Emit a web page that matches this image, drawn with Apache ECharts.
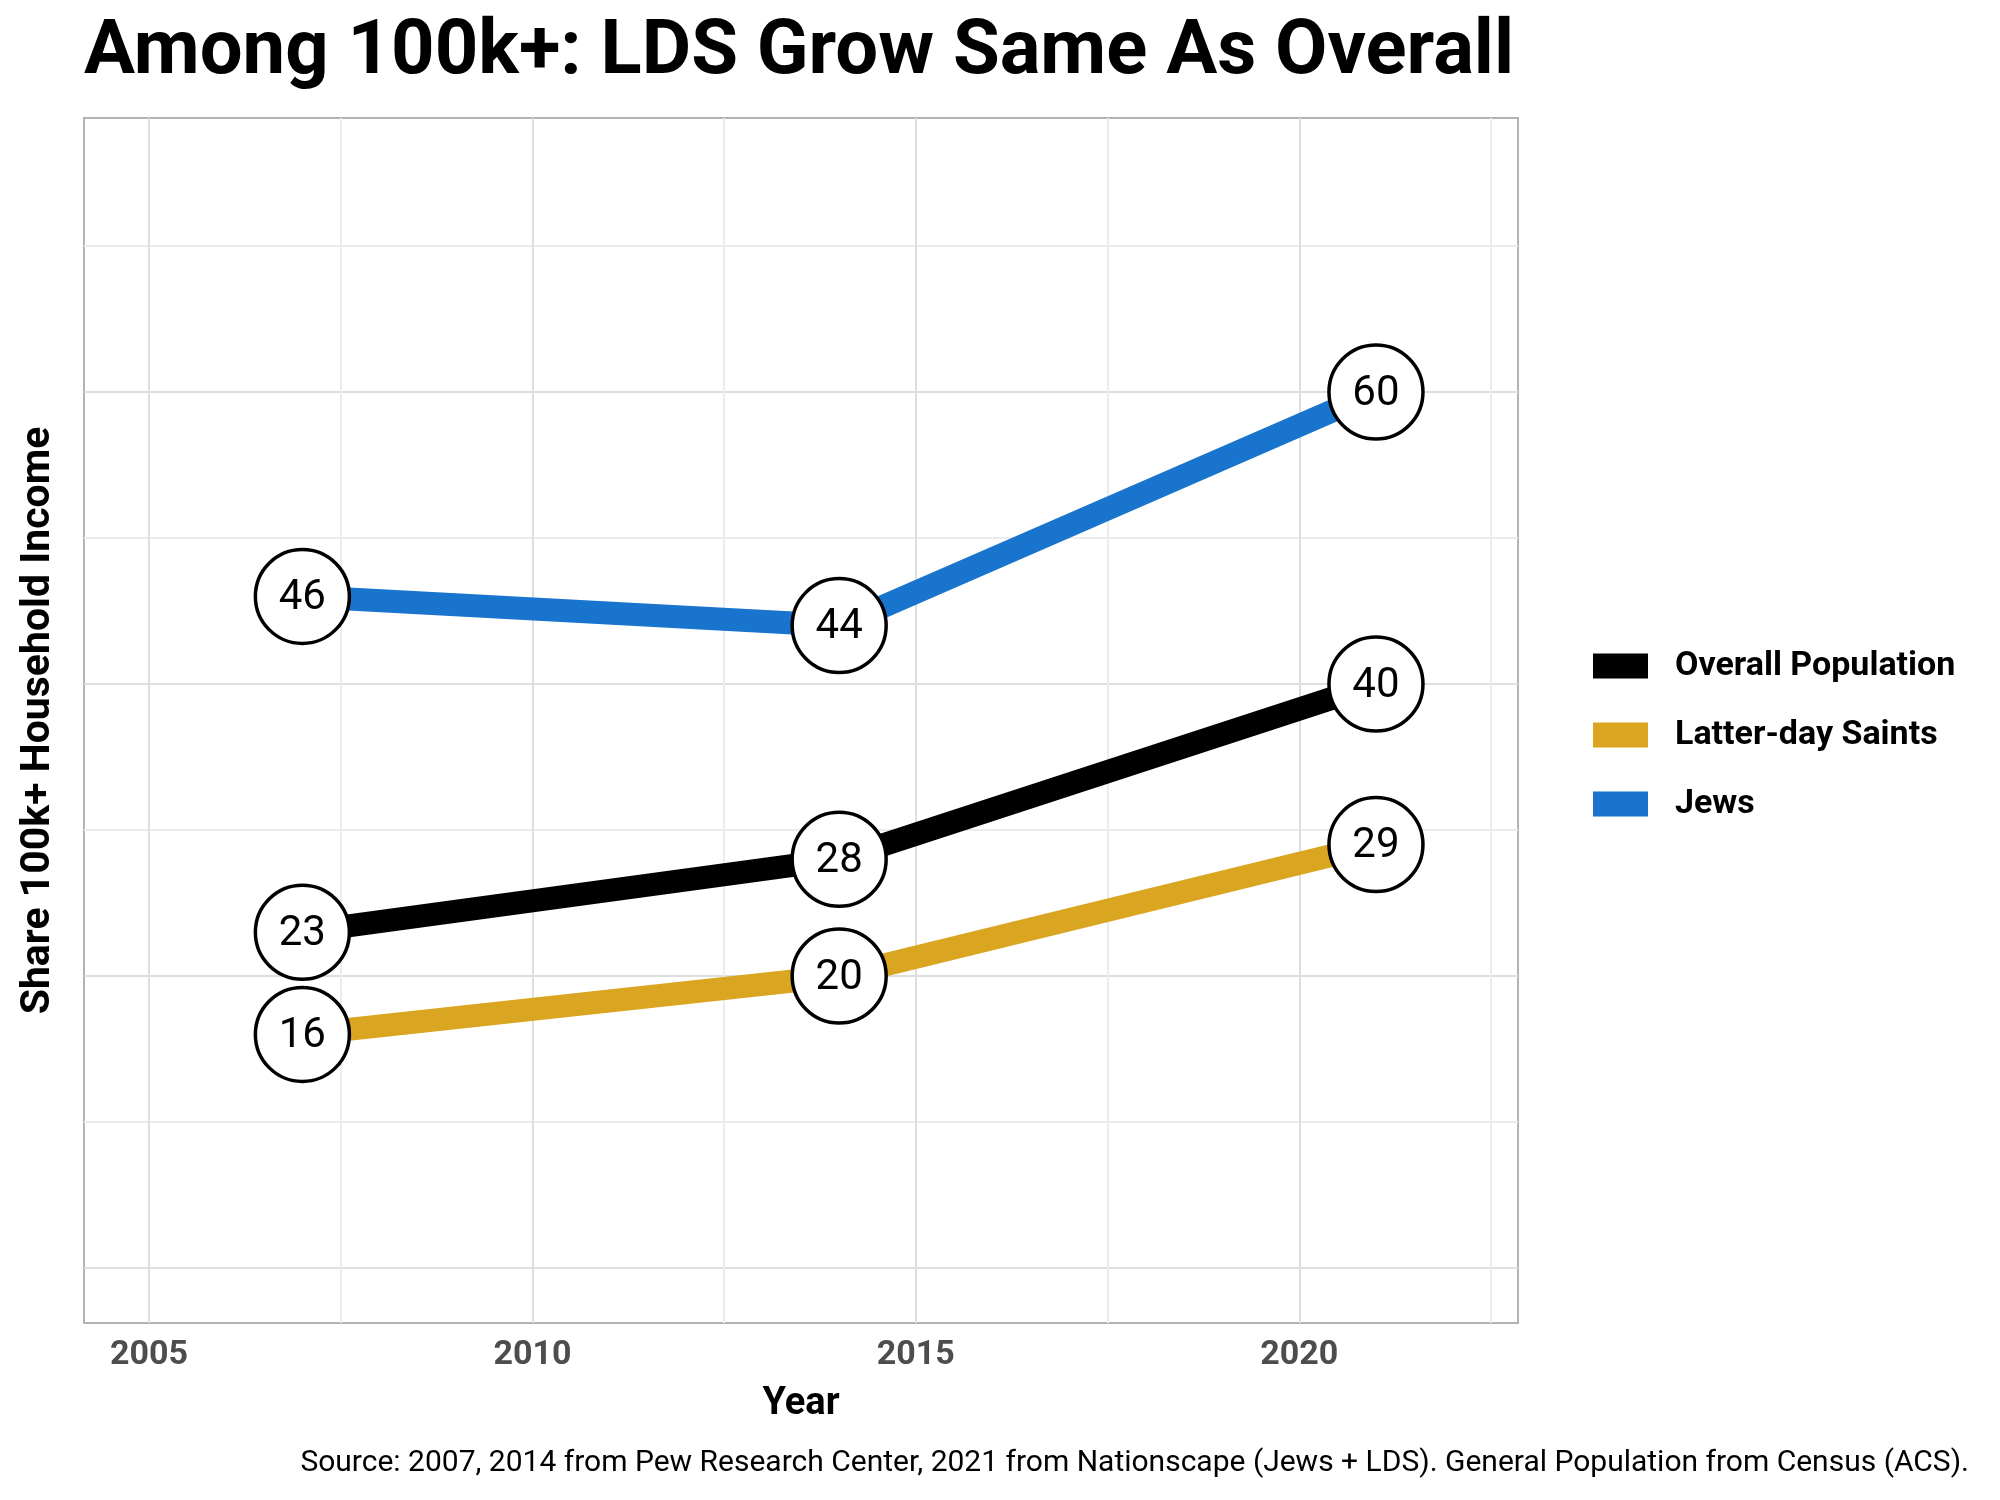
<!DOCTYPE html>
<html>
<head>
<meta charset="utf-8">
<script src="https://cdn.jsdelivr.net/npm/echarts@6/dist/echarts.min.js"></script>
<style>html,body{margin:0;padding:0;background:#fff}#c{width:2000px;height:1500px}</style>
</head>
<body>
<div id="c"></div>
<script>
const years = [2007, 2014, 2021];
const seriesNames = ['Overall Population', 'Latter-day Saints', 'Jews'];
const overall = [23, 28, 40];
const lds = [16, 20, 29];
const jews = [46, 44, 60];
const colors = ['#000000', '#DAA520', '#1874CD'];
const xTickLabels = [2005, 2010, 2015, 2020];

const FONT = 'Roboto';
const chart = echarts.init(document.getElementById('c'), null, {renderer: 'canvas'});

// panel geometry
const P = {left: 84, top: 118, width: 1434, height: 1205};
const V = {left: 149, top: 118, width: 1342, height: 1205};
const H = {left: 84, top: 246, width: 1434, height: 1022};
const D = {left: 149, top: 246, width: 1342, height: 1022};

function mk(name, vals, i) {
  return {
    name: name, type: 'line', xAxisIndex: 3, yAxisIndex: 3,
    data: years.map((y, k) => [y, vals[k]]),
    symbol: 'circle', symbolSize: 94, showSymbol: true, clip: false,
    lineStyle: {color: colors[i], width: 23, cap: 'butt'},
    itemStyle: {color: '#ffffff', borderColor: '#000000', borderWidth: 3.5},
    label: {show: true, position: 'inside', offset: [0, 2], fontFamily: FONT, fontSize: 42, color: '#000', formatter: p => String(p.value[1])},
    emphasis: {disabled: true}, z: 3 + i
  };
}

const option = {
  animation: false,
  backgroundColor: '#ffffff',
  title: [
    {text: 'Among 100k+: LDS Grow Same As Overall', left: 79, top: 11,
     textStyle: {fontFamily: FONT, fontWeight: 'bold', fontSize: 76, color: '#000'}},
    {text: 'Source: 2007, 2014 from Pew Research Center, 2021 from Nationscape (Jews + LDS). General Population from Census (ACS).',
     right: 26, top: 1443, textStyle: {fontFamily: FONT, fontWeight: 'normal', fontSize: 30, color: '#000'}}
  ],
  legend: {
    orient: 'vertical', left: 1588, top: 644, icon: 'rect', itemWidth: 55, itemHeight: 25, itemGap: 35,
    selectedMode: false,
    itemStyle: {borderWidth: 0},
    textStyle: {fontFamily: FONT, fontWeight: 'bold', fontSize: 34, color: '#000', padding: [0, 0, 0, 22]},
    data: seriesNames.map((n, i) => ({name: n, itemStyle: {color: colors[i], borderWidth: 0}}))
  },
  grid: [
    Object.assign({show: true, borderColor: '#b3b3b3', borderWidth: 2, backgroundColor: 'transparent', containLabel: false}, P),
    Object.assign({containLabel: false}, V),
    Object.assign({containLabel: false}, H),
    Object.assign({containLabel: false}, D)
  ],
  xAxis: [
    {gridIndex: 0, type: 'value', min: 0, max: 1, name: 'Year', nameLocation: 'middle', nameGap: 62,
     nameTextStyle: {fontFamily: FONT, fontWeight: 'bold', fontSize: 38, color: '#000'},
     axisLine: {show: false}, axisTick: {show: false}, axisLabel: {show: false}, splitLine: {show: false}},
    {gridIndex: 1, type: 'value', min: 2005, max: 2022.5, interval: 2.5,
     axisLine: {show: false}, axisTick: {show: false},
     axisLabel: {margin: 15, fontFamily: FONT, fontWeight: 'bold', fontSize: 34, color: '#4d4d4d',
       formatter: v => (xTickLabels.indexOf(Math.round(v * 10) / 10) >= 0 ? String(v) : '')},
     splitLine: {show: true, lineStyle: {color: ['#dedede', '#ececec'], width: 2}}},
    {gridIndex: 2, type: 'value', min: 0, max: 1, show: false},
    {gridIndex: 3, type: 'value', min: 2005, max: 2022.5, show: false}
  ],
  yAxis: [
    {gridIndex: 0, type: 'value', min: 0, max: 1, name: 'Share 100k+ Household Income', nameLocation: 'middle', nameGap: 25,
     nameTextStyle: {fontFamily: FONT, fontWeight: 'bold', fontSize: 41, color: '#000'},
     axisLine: {show: false}, axisTick: {show: false}, axisLabel: {show: false}, splitLine: {show: false}},
    {gridIndex: 1, type: 'value', min: 0, max: 1, show: false},
    {gridIndex: 2, type: 'value', min: 0, max: 70, interval: 10,
     axisLine: {show: false}, axisTick: {show: false}, axisLabel: {show: false},
     splitLine: {show: true, lineStyle: {color: ['#dedede', '#ececec'], width: 2}}},
    {gridIndex: 3, type: 'value', min: 0, max: 70, show: false}
  ],
  series: [mk(seriesNames[0], overall, 0), mk(seriesNames[1], lds, 1), mk(seriesNames[2], jews, 2)]
};
chart.setOption(option);
</script>
</body>
</html>
